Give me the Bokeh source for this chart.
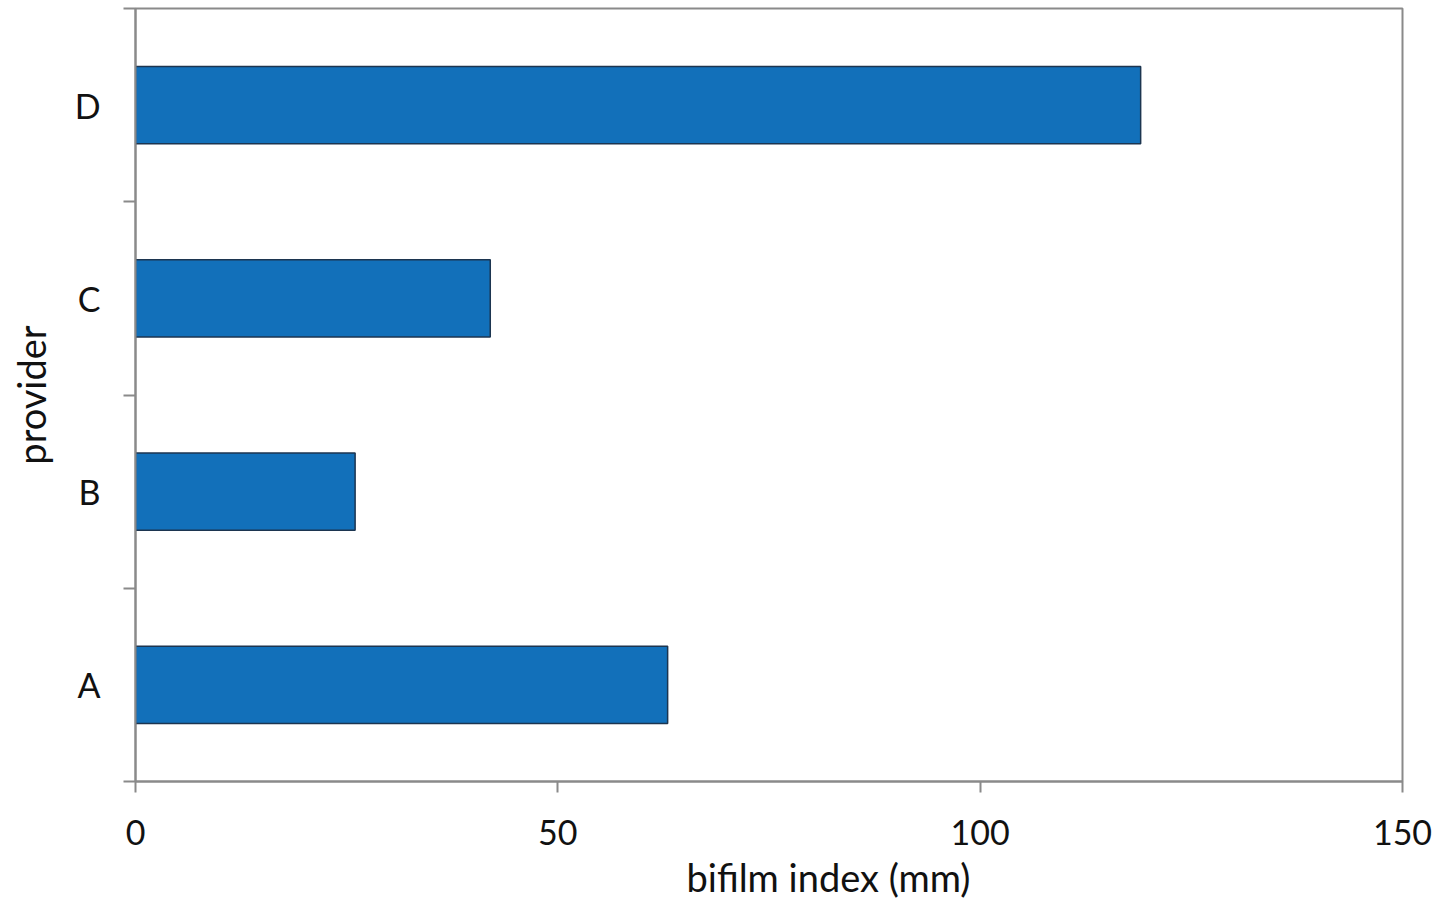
from bokeh.plotting import figure
from bokeh.models import Range1d, FixedTicker, Title
from bokeh.embed import file_html
from bokeh.resources import INLINE

providers = ["A", "B", "C", "D"]
bifilm_index = [63, 26, 42, 119]
x_ticks = [0, 50, 100, 150]

centers = [i + 0.5 for i in range(len(providers))]
bounds = list(range(len(providers) + 1))

FONT = "Lato"
AX = "#8a8a8a"
W, H = 1438, 908

p = figure(width=W, height=H, output_backend="svg", toolbar_location=None,
           x_range=Range1d(0, 150), y_range=Range1d(0, len(providers)),
           y_axis_label="provider",
           min_border_left=135, min_border_right=W - 1402, min_border_top=8,
           min_border_bottom=H - 781)

p.hbar(y=centers, right=bifilm_index, left=0, height=0.4,
       fill_color="#1270BA", line_color="#1c3550", line_width=1.5)

p.grid.visible = False
p.outline_line_color = AX
p.outline_line_width = 2
p.background_fill_color = "white"
p.border_fill_color = "white"

xa = p.xaxis[0]
xa.ticker = FixedTicker(ticks=x_ticks, minor_ticks=[])
xa.axis_line_color = AX
xa.axis_line_width = 2
xa.major_tick_line_color = AX
xa.major_tick_line_width = 2
xa.major_tick_out = 11
xa.major_tick_in = 0
xa.minor_tick_line_color = None
xa.minor_tick_out = 0
xa.minor_tick_in = 0
xa.major_label_text_font = FONT
xa.major_label_text_font_size = "34px"
xa.major_label_text_color = "#111111"
xa.major_label_standoff = 27

# x-axis title, shifted right of centre as in the original
p.add_layout(Title(text="bifilm index (mm)", align="left", offset=551,
                   vertical_align="top",
                   text_font=FONT, text_font_size="38px", text_font_style="normal",
                   text_color="#111111", standoff=12), "below")

ya = p.yaxis[0]
ya.ticker = FixedTicker(ticks=centers, minor_ticks=bounds)
ya.major_label_overrides = {c: name for c, name in zip(centers, providers)}
ya.axis_line_color = AX
ya.axis_line_width = 2
ya.major_tick_line_color = None
ya.major_tick_out = 0
ya.major_tick_in = 0
ya.minor_tick_line_color = AX
ya.minor_tick_line_width = 2
ya.minor_tick_out = 12
ya.minor_tick_in = 0
ya.major_label_orientation = "horizontal"
ya.major_label_text_font = FONT
ya.major_label_text_font_size = "34px"
ya.major_label_text_color = "#111111"
ya.major_label_standoff = 23
ya.axis_label_text_font = FONT
ya.axis_label_text_font_size = "38px"
ya.axis_label_text_font_style = "normal"
ya.axis_label_text_color = "#111111"
ya.axis_label_standoff = 18

open("out.html", "w").write(file_html(p, INLINE))
